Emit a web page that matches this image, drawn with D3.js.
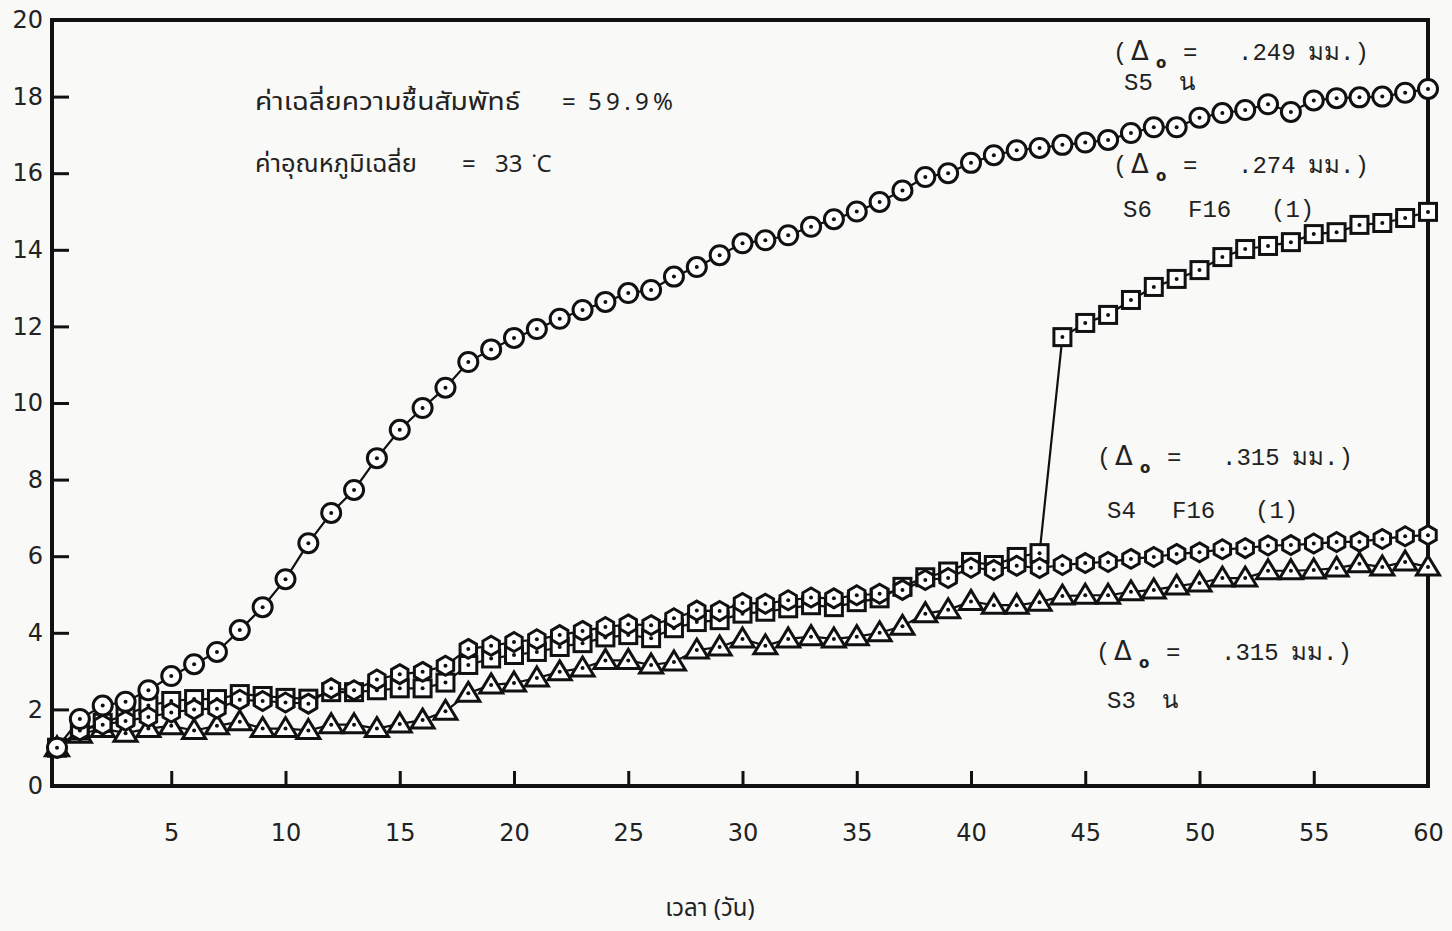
<!DOCTYPE html>
<html>
<head>
<meta charset="utf-8">
<script src="https://cdn.jsdelivr.net/npm/d3@7"></script>
<style>
  body { margin: 0; background: #f9f9f7; }
  svg { display: block; }
  .tick text { font-family: "DejaVu Sans", sans-serif; font-size: 24px; fill: #222; }
  .mono { font-family: "Liberation Mono", "Courier New", monospace; font-size: 24px; fill: #222; }
  .thai { font-family: "Noto Sans Thai", "Loma", "Garuda", "Norasi", "DejaVu Sans", sans-serif; font-size: 24px; fill: #222; }
</style>
</head>
<body>
<svg width="1452" height="931"></svg>
<script>
// days 0..60, one reading per day
var days = d3.range(0, 61);

// S5 (circles)
var s5 = [1.0, 1.75, 2.1, 2.2, 2.5, 2.87, 3.18, 3.5, 4.07, 4.67, 5.4, 6.34, 7.13, 7.73, 8.56, 9.3, 9.87, 10.4, 11.07, 11.4,
  11.7, 11.93, 12.2, 12.43, 12.64, 12.87, 12.95, 13.3, 13.55, 13.86, 14.17, 14.25, 14.38, 14.6, 14.8, 15.0, 15.25, 15.55, 15.9, 16.0,
  16.27, 16.47, 16.6, 16.66, 16.74, 16.8, 16.87, 17.05, 17.2, 17.2, 17.45, 17.57, 17.65, 17.8, 17.6, 17.9, 17.96, 17.98, 18.0, 18.1, 18.2];
// S6 (squares)
var s6 = [1.0, 1.45, 1.65, 1.85, 2.1, 2.22, 2.27, 2.27, 2.4, 2.35, 2.3, 2.28, 2.45, 2.45, 2.5, 2.55, 2.55, 2.7, 3.16, 3.33,
  3.42, 3.5, 3.63, 3.73, 3.88, 3.94, 3.86, 4.12, 4.28, 4.33, 4.5, 4.55, 4.64, 4.72, 4.67, 4.8, 4.9, 5.2, 5.45, 5.6,
  5.85, 5.77, 5.98, 6.08, 11.72, 12.09, 12.3, 12.69, 13.03, 13.24, 13.47, 13.81, 14.02, 14.1, 14.2, 14.41, 14.46, 14.65, 14.7, 14.83, 14.99];
// S4 (hexagons)
var s4 = [1.0, 1.45, 1.6, 1.7, 1.8, 1.92, 2.0, 2.02, 2.25, 2.22, 2.18, 2.15, 2.55, 2.5, 2.78, 2.92, 2.98, 3.14, 3.58, 3.66,
  3.76, 3.83, 3.94, 4.05, 4.15, 4.22, 4.2, 4.38, 4.58, 4.57, 4.78, 4.76, 4.85, 4.92, 4.9, 4.98, 5.02, 5.12, 5.38, 5.43,
  5.7, 5.64, 5.75, 5.69, 5.77, 5.82, 5.85, 5.93, 5.98, 6.06, 6.1, 6.18, 6.21, 6.28, 6.29, 6.33, 6.37, 6.38, 6.45, 6.52, 6.55];
// S3 (triangles)
var s3 = [1.0, 1.35, 1.5, 1.38, 1.5, 1.57, 1.45, 1.57, 1.68, 1.5, 1.5, 1.45, 1.6, 1.6, 1.5, 1.62, 1.72, 1.95, 2.42, 2.64,
  2.69, 2.82, 2.98, 3.08, 3.28, 3.28, 3.16, 3.24, 3.55, 3.63, 3.84, 3.66, 3.84, 3.9, 3.84, 3.9, 4.0, 4.17, 4.5, 4.6,
  4.82, 4.72, 4.72, 4.8, 4.96, 4.98, 4.98, 5.07, 5.12, 5.22, 5.3, 5.43, 5.43, 5.62, 5.62, 5.64, 5.69, 5.8, 5.72, 5.85, 5.72];

var xTicks = [5, 10, 15, 20, 25, 30, 35, 40, 45, 50, 55, 60];
var yTicks = [0, 2, 4, 6, 8, 10, 12, 14, 16, 18, 20];

var svg = d3.select("svg");

var x = d3.scaleLinear().domain([0, 60]).range([57, 1428]);
var y = d3.scaleLinear().domain([0, 20]).range([786, 20]);

// axes (ticks point inward)
svg.append("g")
    .attr("transform", "translate(52,0)")
    .call(d3.axisLeft(y).tickValues(yTicks).tickSize(-17).tickPadding(9).tickFormat(d3.format("d")))
    .call(function(g) { g.select(".domain").remove(); })
    .call(function(g) { g.selectAll("line").attr("stroke", "#111").attr("stroke-width", 3); });

svg.append("g")
    .attr("transform", "translate(0,786)")
    .call(d3.axisBottom(x).tickValues(xTicks).tickSize(-15).tickPadding(38).tickFormat(d3.format("d")))
    .call(function(g) { g.select(".domain").remove(); })
    .call(function(g) { g.selectAll("line").attr("stroke", "#111").attr("stroke-width", 3); });

// frame
svg.append("rect")
    .attr("x", 52).attr("y", 20)
    .attr("width", 1428 - 52).attr("height", 786 - 20)
    .attr("fill", "none").attr("stroke", "#111").attr("stroke-width", 4);

var series = [
  {name: "S3", vals: s3, shape: "tri"},
  {name: "S6", vals: s6, shape: "sq"},
  {name: "S4", vals: s4, shape: "hex"},
  {name: "S5", vals: s5, shape: "circ"}
];

var line = d3.line()
    .x(function(d, i) { return x(days[i]); })
    .y(function(d) { return y(d); });

series.forEach(function(s) {
  svg.append("path")
      .datum(s.vals)
      .attr("d", line)
      .attr("fill", "none")
      .attr("stroke", "#111")
      .attr("stroke-width", 2.2);
});

function hexPath(r) {
  var pts = d3.range(6).map(function(k) {
    var a = -Math.PI / 2 + k * Math.PI / 3;
    return [r * Math.cos(a), r * Math.sin(a)];
  });
  return "M" + pts.join("L") + "Z";
}

series.forEach(function(s) {
  var g = svg.append("g").attr("class", "marks-" + s.name);
  var m = g.selectAll("g")
      .data(s.vals)
      .enter().append("g")
      .attr("transform", function(d, i) { return "translate(" + x(days[i]) + "," + y(d) + ")"; });

  if (s.shape == "circ") {
    m.append("circle").attr("r", 9.5);
  } else if (s.shape == "sq") {
    m.append("rect").attr("x", -8.5).attr("y", -8.5).attr("width", 17).attr("height", 17);
  } else if (s.shape == "tri") {
    m.append("path").attr("d", "M0,-11L11.5,8L-11.5,8Z");
  } else {
    m.append("path").attr("d", hexPath(9.5));
  }
  m.selectAll("circle,rect,path")
      .attr("fill", "#fff").attr("stroke", "#111").attr("stroke-width", 3);
  m.append("circle").attr("r", 2).attr("fill", "#111");
});

// top-left notes
svg.append("text").attr("class", "thai")
    .attr("x", 255).attr("y", 110)
    .attr("textLength", 265).attr("lengthAdjust", "spacingAndGlyphs")
    .text("ค่าเฉลี่ยความชื้นสัมพัทธ์");
svg.append("text").attr("class", "thai").attr("x", 562).attr("y", 110).text("=");
svg.append("text").attr("class", "thai").attr("x", 588).attr("y", 110)
    .attr("textLength", 85).text("59.9%");

svg.append("text").attr("class", "thai")
    .attr("x", 255).attr("y", 172)
    .attr("textLength", 162).attr("lengthAdjust", "spacingAndGlyphs")
    .text("ค่าอุณหภูมิเฉลี่ย");
svg.append("text").attr("class", "thai").attr("x", 462).attr("y", 172).text("=");
svg.append("text").attr("class", "thai").attr("x", 495).attr("y", 172).text("33");
svg.append("text").attr("class", "thai").attr("x", 532).attr("y", 172).text("˙C");

// right-hand labels
function deltaLabel(x0, yb, val) {
  var g = svg.append("g");
  g.append("text").attr("class", "mono").attr("x", x0).attr("y", yb).text("(");
  g.append("text").attr("x", x0 + 18).attr("y", yb)
      .style("font-family", "DejaVu Sans, sans-serif").style("font-size", "26px").style("fill", "#222")
      .text("Δ");
  g.append("text").attr("x", x0 + 43).attr("y", yb + 8)
      .style("font-family", "DejaVu Sans, sans-serif").style("font-size", "15px").style("font-weight", "bold").style("fill", "#222")
      .text("o");
  g.append("text").attr("class", "mono").attr("x", x0 + 70).attr("y", yb).text("=");
  g.append("text").attr("class", "mono").attr("x", x0 + 125).attr("y", yb).text(val);
  g.append("text").attr("class", "mono").attr("x", x0 + 195).attr("y", yb).text("มม.)");
}
function nameLabel(x0, yb, parts) {
  var offs = [0, 65, 148];
  parts.forEach(function(p, i) {
    svg.append("text").attr("class", "mono")
        .attr("x", x0 + (i == 1 && parts.length == 2 ? 55 : offs[i])).attr("y", yb).text(p);
  });
}

deltaLabel(1113, 60, ".249");
nameLabel(1124, 90, ["S5", "น"]);
deltaLabel(1113, 173, ".274");
nameLabel(1123, 217, ["S6", "F16", "(1)"]);
deltaLabel(1097, 465, ".315");
nameLabel(1107, 518, ["S4", "F16", "(1)"]);
deltaLabel(1096, 660, ".315");
nameLabel(1107, 708, ["S3", "น"]);

// x title
svg.append("text").attr("class", "thai")
    .attr("x", 710).attr("y", 916).attr("text-anchor", "middle")
    .text("เวลา (วัน)");
</script>
</body>
</html>
